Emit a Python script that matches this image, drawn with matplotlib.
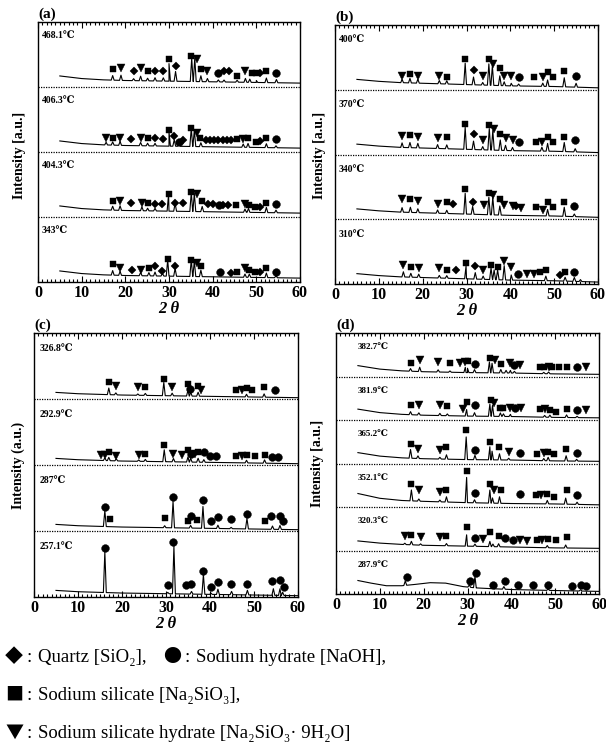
import numpy as np
import matplotlib
matplotlib.use('Agg')
import matplotlib.pyplot as plt
from matplotlib.ticker import MultipleLocator

SERIF = ['Liberation Serif', 'DejaVu Serif', 'DejaVu Sans', 'Noto Sans CJK JP']
SYMF = ['Noto Sans CJK JP', 'DejaVu Sans']
plt.rcParams['font.family'] = SERIF

X_TICKS = [0, 10, 20, 30, 40, 50, 60]
BASE_X = [5, 10, 15, 20, 30, 40, 50, 60]

# ---------------- Panel (a) ----------------
A_LABELS = ['468.1℃', '406.3℃', '404.3℃', '343℃']
A_BASE = [0.17, 0.13, 0.11, 0.10, 0.09, 0.08, 0.07, 0.06]

A1_pk_x = [17.1, 19.0, 21.9, 23.5, 25.1, 26.8, 28.7, 30.0, 31.5, 35.2, 35.9, 37.3, 38.8, 41.3, 42.6, 45.6, 47.5, 48.5, 50.0, 52.3, 54.6]
A1_pk_h = [.07, .08, .03, .07, .04, .05, .05, .27, .15, .36, .36, .09, .05, .03, .03, .03, .06, .05, .03, .07, .05]
A1_mk = "svDvsDDsDsvsvoDDsvssDso"
A1_mk_x = [17.1, 19.0, 21.9, 23.5, 25.1, 26.8, 28.7, 30.0, 31.5, 35.0, 36.3, 37.3, 38.8, 41.3, 42.6, 43.7, 45.6, 47.5, 48.9, 50.0, 50.8, 52.3, 54.6]
A1_mk_y = [.27, .30, .25, .30, .25, .25, .25, .43, .33, .48, .43, .27, .25, .22, .24, .24, .17, .25, .22, .22, .22, .25, .22]

A2_pk_x = [15.6, 17.1, 18.8, 23.5, 25.1, 26.8, 30.0, 31.2, 32.3, 35.1, 35.8, 37.3, 47.0, 48.1, 52.3, 54.5]
A2_pk_h = [.04, .05, .06, .05, .04, .04, .22, .10, .05, .28, .25, .06, .05, .06, .06, .03]
A2_mk = "vsvDvsDDsDoDsvsDDDDDDDsvssDso"
A2_mk_x = [15.6, 17.1, 18.8, 21.2, 23.5, 25.1, 26.8, 28.6, 30.0, 31.2, 32.3, 33.3, 35.0, 36.3, 37.2,
           38.5, 39.5, 40.4, 41.3, 42.3, 43.3, 44.2, 45.6, 47.0, 48.1, 49.9, 50.8, 52.3, 54.5]
A2_mk_y = [.21, .22, .21, .20, .21, .22, .22, .20, .34, .24, .16, .19, .37, .29, .21,
           .19, .19, .19, .19, .19, .19, .19, .20, .20, .21, .16, .17, .21, .20]

A3_pk_x = [17.1, 18.8, 23.8, 25.1, 26.8, 29.9, 31.4, 35.1, 35.8, 37.6, 47.4, 48.2, 52.3, 54.5]
A3_pk_h = [.06, .07, .06, .04, .04, .26, .12, .30, .28, .08, .05, .06, .08, .04]
A3_mk = "svDvsDDsDDsvsDDoDDsvssDso"
A3_mk_x = [17.1, 18.8, 21.2, 23.8, 25.1, 26.8, 28.3, 29.9, 31.4, 33.3, 35.0, 36.3, 37.6, 39.0, 40.1, 41.4, 42.4, 43.6, 45.3, 47.3, 48.3, 49.7, 50.8, 52.3, 54.5]
A3_mk_y = [.24, .24, .21, .22, .22, .20, .20, .36, .22, .21, .39, .35, .25, .20, .20, .19, .19, .19, .18, .20, .18, .15, .16, .22, .20]

A4_pk_x = [17.1, 18.8, 23.5, 25.4, 26.8, 28.5, 29.7, 31.4, 35.1, 35.8, 37.3, 47.4, 48.4, 52.3, 54.5]
A4_pk_h = [.07, .06, .05, .05, .06, .04, .25, .12, .26, .24, .10, .05, .05, .07, .03]
A4_mk = "svDvsDDsDsvsoDsvssDso"
A4_mk_x = [17.1, 18.8, 21.5, 23.5, 25.4, 26.8, 28.5, 29.7, 31.4, 35.0, 36.3, 37.3, 41.7, 44.3, 45.5, 47.4, 48.4, 49.7, 50.8, 52.3, 54.5]
A4_mk_y = [.27, .22, .19, .19, .22, .24, .17, .35, .24, .34, .29, .24, .16, .14, .15, .21, .19, .15, .15, .21, .15]

# ---------------- Panel (b) ----------------
B_LABELS = ['400℃', '370℃', '340℃', '310℃']
B_BASE = [0.16, 0.13, 0.11, 0.10, 0.08, 0.06, 0.05, 0.03]

B1_pk_x = [15.3, 17.1, 18.9, 23.8, 25.5, 29.7, 31.6, 33.7, 35.1, 35.9, 37.6, 38.6, 40.2, 41.9, 47.4, 48.5, 52.3, 55.0]
B1_pk_h = [.05, .07, .06, .05, .05, .33, .12, .04, .33, .30, .15, .06, .04, .03, .05, .10, .14, .06]
B1_mk = "vsvvssDvsvsvvosvssso"
B1_mk_x = [15.3, 17.1, 18.9, 23.8, 25.5, 29.7, 31.6, 33.7, 35.1, 36.1, 37.6, 38.6, 40.2, 41.9, 45.5, 47.4, 48.5, 49.8, 52.3, 55.0]
B1_mk_y = [.21, .25, .21, .21, .20, .47, .31, .21, .47, .39, .33, .21, .21, .20, .19, .19, .27, .20, .29, .21]

B2_pk_x = [15.3, 17.1, 18.9, 23.4, 25.5, 29.7, 31.6, 33.7, 35.2, 36.0, 37.7, 38.9, 40.5, 47.2, 48.5, 52.3, 54.8]
B2_pk_h = [.07, .08, .07, .06, .06, .34, .13, .05, .33, .30, .16, .08, .05, .06, .12, .14, .05]
B2_mk = "vsvvssDvsvsvvosvssso"
B2_mk_x = [15.3, 17.1, 18.9, 23.4, 25.5, 29.7, 31.6, 33.7, 35.2, 36.3, 37.7, 38.9, 40.5, 41.9, 45.9, 47.2, 48.5, 49.8, 52.3, 54.8]
B2_mk_y = [.28, .30, .27, .26, .27, .47, .31, .23, .45, .40, .32, .25, .23, .20, .19, .20, .27, .20, .27, .22]

B3_pk_x = [15.3, 17.2, 18.9, 23.4, 25.5, 29.7, 31.4, 35.1, 36.0, 37.6, 48.5, 52.3, 54.6]
B3_pk_h = [.07, .08, .06, .05, .05, .32, .12, .27, .27, .14, .10, .14, .04]
B3_mk = "vsvvsDsDvsvsvvDvsvssso"
B3_mk_x = [15.3, 17.2, 18.9, 23.4, 25.5, 27.0, 29.7, 31.4, 34.1, 35.1, 36.0, 37.6, 38.6, 40.5, 41.4, 42.4, 45.9, 47.4, 48.5, 49.8, 52.3, 54.6]
B3_mk_y = [.32, .31, .28, .24, .26, .23, .46, .27, .22, .40, .38, .31, .22, .21, .21, .18, .19, .15, .27, .19, .27, .20]

B4_pk_x = [15.6, 17.3, 19.1, 23.8, 25.5, 29.9, 32.0, 33.8, 35.6, 36.3, 37.1, 38.6, 40.2, 48.1, 52.5, 54.6, 56.0]
B4_pk_h = [.08, .06, .05, .04, .04, .20, .10, .05, .18, .15, .15, .22, .08, .07, .06, .06, .03]
B4_mk = "vsvvsDsDvssvvovvssDso"
B4_mk_x = [15.6, 17.3, 19.1, 23.8, 25.5, 27.5, 29.9, 32.0, 33.8, 35.6, 37.1, 38.6, 40.2, 41.7, 43.7, 45.5, 46.8, 48.1, 51.3, 52.5, 54.6]
B4_mk_y = [.30, .26, .25, .25, .22, .21, .33, .28, .21, .30, .27, .36, .26, .16, .16, .16, .18, .22, .14, .19, .19]

# ---------------- Panel (c) ----------------
C_LABELS = ['326.8℃', '292.9℃', '287℃', '257.1℃']
C_BASE = [0.10, 0.08, 0.07, 0.06, 0.05, 0.04, 0.03, 0.02]

C1_pk_x = [17.0, 18.6, 23.6, 25.3, 29.5, 31.4, 35.0, 35.6, 37.3, 48.3, 52.3]
C1_pk_h = [.10, .03, .02, .03, .20, .04, .09, .06, .06, .04, .05]
C1_mk = "svvssvsosvsvssso"
C1_mk_x = [17.0, 18.6, 23.6, 25.3, 29.5, 31.4, 35.0, 35.5, 37.3, 38.0, 45.8, 47.3, 48.3, 49.6, 52.3, 54.7]
C1_mk_y = [.25, .19, .18, .18, .31, .18, .23, .15, .20, .13, .13, .13, .16, .13, .18, .14]

C2_pk_x = [16.1, 17.0, 18.7, 23.8, 25.3, 29.6, 31.7, 35.0, 35.6, 37.3, 38.6, 48.3, 52.4]
C2_pk_h = [.04, .05, .03, .02, .03, .18, .05, .08, .06, .06, .04, .04, .05]
C2_mk = "vvsvvssvvsovsooosvsssoo"
C2_mk_x = [15.3, 16.1, 17.0, 18.7, 23.8, 25.3, 29.6, 31.7, 33.7, 35.0, 35.6, 36.5, 37.3, 38.6, 39.9, 41.3, 45.8, 47.3, 48.3, 50.2, 52.4, 54.2, 55.5]
C2_mk_y = [.15, .15, .19, .14, .15, .16, .30, .16, .15, .23, .17, .17, .20, .20, .13, .13, .13, .13, .15, .13, .15, .12, .12]

C3_pk_x = [16.1, 29.7, 31.6, 35.6, 38.4, 41.8, 44.8, 48.4, 54.2, 55.9]
C3_pk_h = [.24, .03, .40, .04, .33, .05, .02, .16, .05, .06]
C3_mk = "ossososooooosooo"
C3_mk_x = [16.1, 17.2, 29.7, 31.6, 35.0, 35.6, 37.0, 38.3, 40.3, 41.8, 44.8, 48.3, 52.4, 53.9, 55.8, 56.7]
C3_mk_y = [.36, .18, .20, .51, .15, .23, .16, .47, .15, .21, .18, .26, .15, .23, .23, .15]

C4_pk_x = [16.1, 30.4, 31.8, 35.8, 38.5, 40.2, 41.8, 44.9, 48.5, 54.4, 55.9, 56.5]
C4_pk_h = [.62, .02, .72, .04, .30, .02, .08, .05, .07, .10, .10, .05]
C4_mk = "ooooooooooooo"
C4_mk_x = [16.2, 30.5, 31.7, 34.5, 35.6, 38.4, 40.3, 41.8, 44.8, 48.4, 54.2, 55.8, 56.8]
C4_mk_y = [.74, .18, .84, .18, .19, .40, .15, .23, .19, .19, .24, .26, .15]

# ---------------- Panel (d) ----------------
D_LABELS = ['382.7℃', '381.9℃', '365.2℃', '352.1℃', '320.3℃', '287.9℃']
D_BASE = [0.25, 0.17, 0.13, 0.11, 0.09, 0.08, 0.06, 0.05]
D4_BASE = [0.31, 0.20, 0.15, 0.13, 0.10, 0.08, 0.07, 0.05]
D5_BASE = [0.22, 0.17, 0.14, 0.12, 0.10, 0.08, 0.06, 0.05]
D6_BASE_X = [5, 8, 11.5, 15, 18, 21.5, 25, 29, 32, 36, 41, 50, 60]
D6_BASE = [0.31, 0.25, 0.19, 0.19, 0.22, 0.26, 0.25, 0.17, 0.14, 0.12, 0.10, 0.08, 0.06]

D1_pk_x = [17.0, 19.1, 23.3, 26.0, 29.5, 30.0, 31.6, 35.0, 35.6, 37.6, 38.8, 39.8, 40.7, 47.4, 48.5]
D1_pk_h = [.06, .10, .05, .03, .12, .10, .07, .25, .22, .08, .06, .06, .04, .03, .04]
D1_mk = "svvsvvsosvsvovssvsssov"
D1_mk_x = [17.0, 19.1, 23.3, 26.0, 28.4, 29.4, 30.0, 31.6, 35.2, 36.3, 37.6, 39.8, 40.7, 41.9, 46.5, 47.4, 48.5, 49.3, 50.8, 52.8, 55.0, 57.0]
D1_mk_y = [.30, .38, .34, .30, .30, .34, .36, .29, .43, .38, .29, .32, .27, .27, .21, .21, .21, .21, .21, .21, .21, .21]

D2_pk_x = [17.0, 18.9, 23.7, 25.4, 29.8, 31.6, 35.1, 35.7, 37.5, 38.2, 39.8, 47.6, 48.8, 52.6, 55.0]
D2_pk_h = [.07, .05, .05, .04, .15, .08, .28, .25, .08, .06, .05, .04, .05, .06, .03]
D2_mk = "svvsvsosvssvovsvsssov"
D2_mk_x = [17.0, 18.9, 23.7, 25.4, 28.9, 29.8, 31.6, 35.3, 36.1, 37.5, 38.2, 39.8, 40.9, 42.2, 46.6, 47.6, 48.8, 50.2, 52.6, 55.0, 57.0]
D2_mk_y = [.35, .35, .35, .32, .25, .42, .35, .46, .38, .28, .28, .28, .27, .27, .25, .25, .23, .19, .25, .22, .22]

D3_pk_x = [17.0, 18.7, 23.7, 25.2, 29.7, 31.7, 35.1, 35.6, 37.3, 39.4, 47.4, 48.4, 52.5, 54.9]
D3_pk_h = [.20, .06, .04, .10, .52, .10, .30, .20, .14, .04, .05, .08, .12, .04]
D3_mk = "svvssossvosvssso"
D3_mk_x = [17.0, 18.7, 23.7, 25.2, 29.7, 31.7, 35.2, 37.3, 39.4, 41.9, 45.9, 47.4, 48.4, 49.7, 52.5, 54.9]
D3_mk_y = [.44, .33, .30, .37, .76, .31, .50, .37, .27, .24, .21, .24, .27, .21, .33, .24]

D4_pk_x = [17.2, 18.9, 23.7, 25.2, 29.8, 31.6, 35.1, 35.7, 37.3, 48.2, 52.4, 55.0]
D4_pk_h = [.25, .05, .04, .12, .58, .07, .30, .12, .15, .08, .14, .05]
D4_mk = "svvssosvsosvssso"
D4_mk_x = [17.2, 18.9, 23.7, 25.2, 29.8, 31.6, 35.2, 36.1, 37.6, 41.9, 45.6, 46.8, 48.2, 49.8, 52.6, 55.0]
D4_mk_y = [.52, .38, .34, .38, .82, .33, .54, .38, .38, .29, .27, .27, .31, .24, .38, .27]

D5_pk_x = [15.7, 17.2, 19.3, 25.2, 29.8, 31.7, 35.1, 35.8, 37.1, 48.2, 52.4]
D5_pk_h = [.03, .08, .03, .05, .26, .05, .12, .06, .07, .05, .07]
D5_mk = "vsvvssovssoovvsvsss"
D5_mk_x = [15.7, 17.2, 19.3, 23.7, 25.2, 29.8, 31.7, 33.6, 35.2, 37.1, 38.6, 40.4, 41.9, 43.6, 45.9, 47.0, 48.3, 50.1, 52.6]
D5_mk_y = [.33, .36, .31, .31, .33, .53, .29, .26, .42, .34, .29, .25, .25, .21, .23, .23, .27, .23, .30]

D6_pk_x = [15.8, 30.4, 31.7, 35.9, 38.3, 48.4, 55.8]
D6_pk_h = [.10, .05, .26, .02, .06, .03, .03]
D6_mk = "ooooooooooo"
D6_mk_x = [16.1, 30.6, 31.9, 35.9, 38.5, 41.5, 44.9, 48.4, 53.9, 55.8, 57.1]
D6_mk_y = [.38, .29, .48, .21, .29, .20, .21, .21, .18, .21, .18]

# legend rows: (symbol, description) pieces
LEG_ROW1 = [("◆", "Quartz [SiO₂],"), ("●", "Sodium hydrate [NaOH],")]
LEG_ROW2 = [("■", "Sodium silicate [Na₂SiO₃],")]
LEG_ROW3 = [("▼", "Sodium silicate hydrate [Na₂SiO₃· 9H₂O]")]

# ------------------------------------------------------------
W, H = 606, 745
fig = plt.figure(figsize=(W / 100, H / 100), dpi=100)


def px_rect(l, t, r, b):
    return [l / W, 1 - b / H, (r - l) / W, (b - t) / H]


MS = {'s': 5.0, 'v': 5.8, 'o': 5.6, 'D': 3.8}


def trace(bx, by, px, ph, w=0.33):
    xs = list(bx)
    ys = list(by)
    for p, h in zip(px, ph):
        xs += [p - w, p, p + w]
        ys += [np.interp(p - w, bx, by), np.interp(p, bx, by) + h, np.interp(p + w, bx, by)]
    order = np.argsort(xs, kind='stable')
    return np.asarray(xs)[order], np.asarray(ys)[order]


def draw_panel(rect, letter, labels, traces, lab_x, lab_frac, ylabel, ylab_px, lab_fs=7):
    ax = fig.add_axes(px_rect(*rect))
    n = len(labels)
    ax.set_xlim(0, 60)
    ax.set_ylim(0, n)
    for k, (lab, tr) in enumerate(zip(labels, traces)):
        off = n - 1 - k
        bx, by, pxs, phs, mk, mx, my = tr
        x, y = trace(bx, by, pxs, phs)
        ax.plot(x, off + y, color='black', lw=0.8)
        for m in 'sDvo':
            sel = [i for i, c in enumerate(mk) if c == m]
            if sel:
                ax.plot([mx[i] for i in sel], [off + my[i] for i in sel], ls='none',
                        marker=m, ms=MS[m], color='black', mec='black', mew=0.3)
        ax.text(lab_x, off + lab_frac, lab, fontsize=lab_fs, fontweight='bold',
                ha='left', va='center')
        if off > 0:
            ax.axhline(off, color='black', lw=0.9, ls=(0, (1, 1)))
    ax.set_yticks([])
    ax.set_xticks(X_TICKS)
    ax.set_xticklabels([str(t) for t in X_TICKS], fontsize=11.5, fontweight='bold')
    ax.xaxis.set_minor_locator(MultipleLocator(1))
    ax.tick_params(axis='x', which='both', direction='in', top=True, bottom=True, width=0.8)
    ax.tick_params(axis='x', which='major', length=4, pad=2)
    ax.tick_params(axis='x', which='minor', length=2)
    for s in ax.spines.values():
        s.set_linewidth(1.0)
    ax.set_xlabel('2 θ', fontsize=12, fontweight='bold', fontstyle='italic', labelpad=0)
    l, t, r, b = rect
    fig.text(l / W, 1 - (t - 8) / H, letter, fontsize=11, fontweight='bold', ha='left', va='center')
    fig.text(ylab_px[0] / W, 1 - ylab_px[1] / H, ylabel, fontsize=10, fontweight='bold',
             rotation=90, ha='center', va='center')
    return ax


A_TR = [(BASE_X, A_BASE, A1_pk_x, A1_pk_h, A1_mk, A1_mk_x, A1_mk_y),
        (BASE_X, A_BASE, A2_pk_x, A2_pk_h, A2_mk, A2_mk_x, A2_mk_y),
        (BASE_X, A_BASE, A3_pk_x, A3_pk_h, A3_mk, A3_mk_x, A3_mk_y),
        (BASE_X, A_BASE, A4_pk_x, A4_pk_h, A4_mk, A4_mk_x, A4_mk_y)]
B_TR = [(BASE_X, B_BASE, B1_pk_x, B1_pk_h, B1_mk, B1_mk_x, B1_mk_y),
        (BASE_X, B_BASE, B2_pk_x, B2_pk_h, B2_mk, B2_mk_x, B2_mk_y),
        (BASE_X, B_BASE, B3_pk_x, B3_pk_h, B3_mk, B3_mk_x, B3_mk_y),
        (BASE_X, B_BASE, B4_pk_x, B4_pk_h, B4_mk, B4_mk_x, B4_mk_y)]
C_TR = [(BASE_X, C_BASE, C1_pk_x, C1_pk_h, C1_mk, C1_mk_x, C1_mk_y),
        (BASE_X, C_BASE, C2_pk_x, C2_pk_h, C2_mk, C2_mk_x, C2_mk_y),
        (BASE_X, C_BASE, C3_pk_x, C3_pk_h, C3_mk, C3_mk_x, C3_mk_y),
        (BASE_X, C_BASE, C4_pk_x, C4_pk_h, C4_mk, C4_mk_x, C4_mk_y)]
D_TR = [(BASE_X, D_BASE, D1_pk_x, D1_pk_h, D1_mk, D1_mk_x, D1_mk_y),
        (BASE_X, D_BASE, D2_pk_x, D2_pk_h, D2_mk, D2_mk_x, D2_mk_y),
        (BASE_X, D_BASE, D3_pk_x, D3_pk_h, D3_mk, D3_mk_x, D3_mk_y),
        (BASE_X, D4_BASE, D4_pk_x, D4_pk_h, D4_mk, D4_mk_x, D4_mk_y),
        (BASE_X, D5_BASE, D5_pk_x, D5_pk_h, D5_mk, D5_mk_x, D5_mk_y),
        (D6_BASE_X, D6_BASE, D6_pk_x, D6_pk_h, D6_mk, D6_mk_x, D6_mk_y)]

draw_panel((38, 22, 300, 282), '(a)', A_LABELS, A_TR, 0.9, 0.80, 'Intensity [a.u.]', (20, 155))
draw_panel((335, 25, 598, 284), '(b)', B_LABELS, B_TR, 0.8, 0.77, 'Intensity [a.u.]', (320, 155))
draw_panel((34, 333, 298, 597), '(c)', C_LABELS, C_TR, 1.3, 0.76, 'Intensity (a.u.)', (18, 465))
draw_panel((336, 333, 599, 594), '(d)', D_LABELS, D_TR, 5.0, 0.67, 'Intensity [a.u.]', (318, 463), lab_fs=6.5)

# legend text rows below the panels
ROW_Y = [657, 695, 733]
SEG_X = [[5, 163], [5], [5]]
for row, y, xs in zip([LEG_ROW1, LEG_ROW2, LEG_ROW3], ROW_Y, SEG_X):
    for (sym, desc), x0 in zip(row, xs):
        fy = 1 - y / H
        fig.text(x0 / W, fy, sym, fontsize=13, family=SYMF, ha='left', va='center')
        fig.text((x0 + 22) / W, fy, ':', fontsize=14, ha='left', va='center')
        fig.text((x0 + 33) / W, fy, desc, fontsize=13.5, ha='left', va='center')

fig.savefig('out.png', dpi=100)
